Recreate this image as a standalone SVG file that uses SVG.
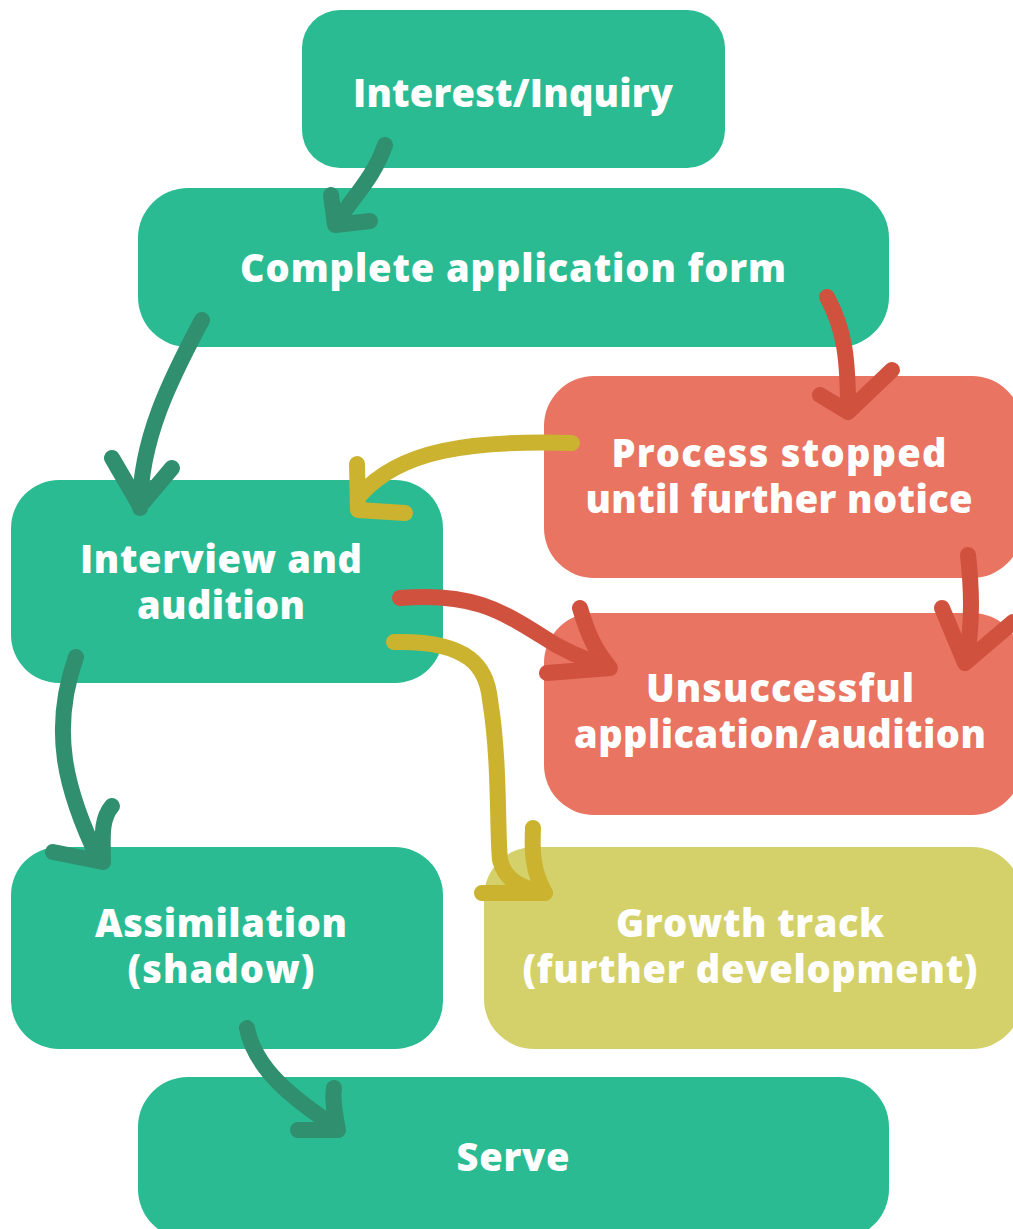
<svg xmlns="http://www.w3.org/2000/svg" width="1013" height="1229" viewBox="0 0 1013 1229">
<style>
.g{fill:#2bbb92}.r{fill:#e87461}.y{fill:#d4d16a}
text{font-family:"Open Sans","Liberation Sans",sans-serif;font-weight:800;font-size:38px;fill:#fff;text-anchor:middle}
.c{fill:none;stroke-width:16;stroke-linecap:round;stroke-linejoin:round}
.dg{stroke:#2f8f6e}.dr{stroke:#cf513e}.dy{stroke:#cbb32f}
</style>
<rect width="1013" height="1229" fill="#fff"/>
<g id="n1"><rect class="g" x="302" y="10" width="423" height="158" rx="38"/><text x="513" y="107" textLength="320">Interest/Inquiry</text></g>
<g id="n2"><rect class="g" x="138" y="188" width="751" height="159" rx="50"/><text x="513" y="282" textLength="546">Complete application form</text></g>
<g id="n3"><rect class="r" x="544" y="376" width="478" height="202" rx="50"/><text x="779" y="467" textLength="335">Process stopped</text><text x="779" y="513" textLength="387">until further notice</text></g>
<g id="n4"><rect class="g" x="11" y="480" width="432" height="203" rx="48"/><text x="221" y="573" textLength="282">Interview and</text><text x="221" y="619" textLength="168">audition</text></g>
<g id="n5"><rect class="r" x="544" y="613" width="478" height="202" rx="50"/><text x="780" y="702" textLength="268">Unsuccessful</text><text x="780" y="748" textLength="412">application/audition</text></g>
<g id="n6"><rect class="g" x="11" y="847" width="432" height="202" rx="48"/><text x="221" y="937" textLength="252">Assimilation</text><text x="221" y="983" textLength="187">(shadow)</text></g>
<g id="n7"><rect class="y" x="484" y="847" width="538" height="202" rx="50"/><text x="750" y="937" textLength="268">Growth track</text><text x="750" y="983" textLength="455">(further development)</text></g>
<g id="n8"><rect class="g" x="138" y="1077" width="751" height="162" rx="50"/><text x="513" y="1171" textLength="113">Serve</text></g>
<g id="connectors">
<path class="c dg" d="M385,145 C375,175 355,195 336,223 M331,195 L335,225 L370,221"/>
<path class="c dg" d="M202,320 C170,380 140,440 140,508 M112,458 L140,506 L172,468"/>
<path class="c dy" d="M572,443 C470,440 400,450 360,495 M357,464 L358,510 L405,513"/>
<path class="c dr" d="M827,297 C845,330 848,360 848,410 M820,395 L848,412 L892,370"/>
<path class="c dr" d="M968,555 C972,590 972,630 966,662 M942,608 L965,663 L1013,622"/>
<path class="c dr" d="M400,598 C470,592 500,610 540,635 C565,652 585,660 608,666 M580,608 C588,635 595,650 610,668 L547,673"/>
<path class="c dy" d="M394,642 C470,640 487,668 490,700 C500,760 497,830 500,860 C505,880 520,888 545,893 M533,828 C532,850 532,870 545,893 L482,893"/>
<path class="c dg" d="M76,657 C50,730 65,790 99,860 M112,806 C100,820 103,840 103,862 L53,852"/>
<path class="c dg" d="M247,1028 C255,1070 295,1100 337,1128 M334,1088 C332,1100 335,1115 338,1130 L298,1130"/>
</g>
</svg>
